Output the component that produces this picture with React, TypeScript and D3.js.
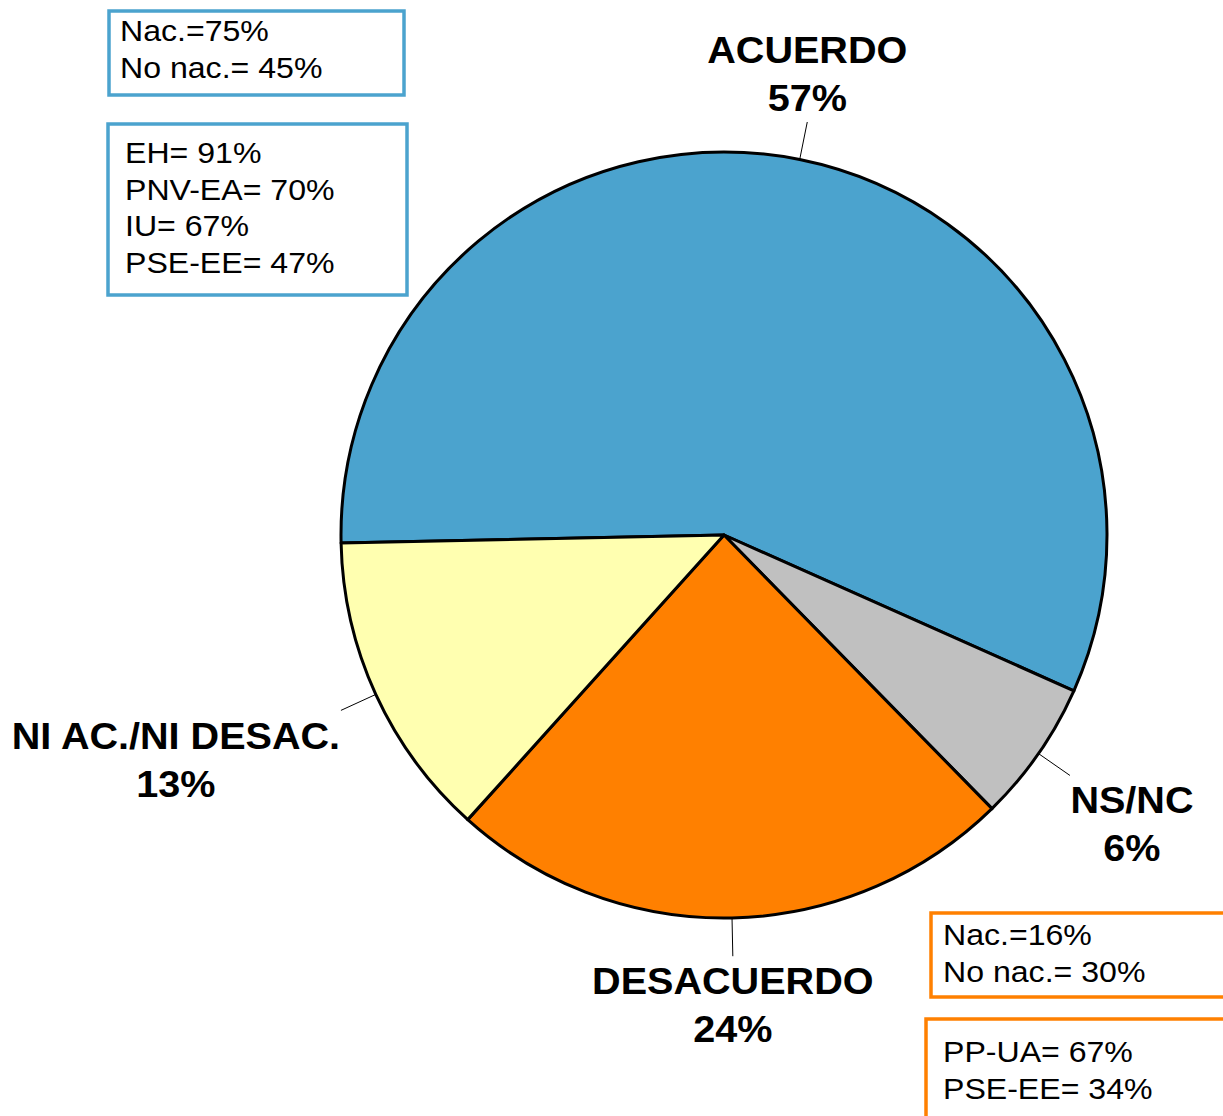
import React, { useEffect } from "react";
import * as d3 from "d3";

const categories = ["ACUERDO", "NS/NC", "DESACUERDO", "NI AC./NI DESAC."];
const values = [57, 6, 24, 13];
const colors = ["#4BA3CE", "#C0C0C0", "#FF8000", "#FFFFB0"];

const acuerdoBox1 = ["Nac.=75%", "No nac.= 45%"];
const acuerdoBox2 = ["EH= 91%", "PNV-EA= 70%", "IU= 67%", "PSE-EE= 47%"];
const desacBox1 = ["Nac.=16%", "No nac.= 30%"];
const desacBox2 = ["PP-UA= 67%", "PSE-EE= 34%"];

const W = 1223;
const H = 1116;
const cx = 724;
const cy = 535;
const R = 383;
const startDeg = -91.2;
const SX = 1.07;

// label offsets relative to leader end: [dx of text center, dy of first baseline]
const labelOffsets = [
  [0, -59],
  [62, 38],
  [0, 38],
  [-165, 39],
];
const lineGap = 48;

const FONT = "'Liberation Sans', Arial, sans-serif";

export default function App() {
  useEffect(() => {
    document.body.style.margin = "0";
  }, []);

  const pie = d3
    .pie<number>()
    .sort(null)
    .value((d) => d)
    .startAngle((startDeg * Math.PI) / 180)
    .endAngle((startDeg * Math.PI) / 180 + 2 * Math.PI);
  const arcs = pie(values);
  const arcGen = d3.arc<d3.PieArcDatum<number>>().innerRadius(0).outerRadius(R);

  const boxes = [
    { x: 109, y: 11, w: 295, h: 84, lines: acuerdoBox1, tx: 120, ty: 41, color: colors[0] },
    { x: 108, y: 124, w: 299, h: 171, lines: acuerdoBox2, tx: 125, ty: 163, color: colors[0] },
    { x: 931, y: 913, w: 300, h: 84, lines: desacBox1, tx: 943, ty: 945, color: colors[2] },
    { x: 926, y: 1019, w: 305, h: 110, lines: desacBox2, tx: 943, ty: 1062, color: colors[2] },
  ];

  return (
    <svg width={W} height={H} style={{ display: "block" }} xmlns="http://www.w3.org/2000/svg">
      <rect width={W} height={H} fill="#fff" />
      <g transform={`translate(${cx},${cy})`}>
        {arcs.map((a, i) => (
          <path key={i} d={arcGen(a) || ""} fill={colors[i]} stroke="#000" strokeWidth={3} strokeLinejoin="round" />
        ))}
        {arcs.map((a, i) => {
          const mid = (a.startAngle + a.endAngle) / 2;
          const x1 = Math.sin(mid) * R;
          const y1 = -Math.cos(mid) * R;
          const x2 = Math.sin(mid) * R * 1.1;
          const y2 = -Math.cos(mid) * R * 1.1;
          const [dx, dy] = labelOffsets[i];
          return (
            <g key={"l" + i}>
              <line x1={x1} y1={y1} x2={x2} y2={y2} stroke="#000" strokeWidth={1} />
              <text
                transform={`translate(${x2 + dx},${y2 + dy}) scale(${SX},1)`}
                textAnchor="middle"
                fontFamily={FONT}
                fontWeight="bold"
                fontSize={37}
                fill="#000"
              >
                <tspan x={0} y={0}>{categories[i]}</tspan>
                <tspan x={0} y={lineGap}>{values[i]}%</tspan>
              </text>
            </g>
          );
        })}
      </g>
      {boxes.map((b, i) => (
        <g key={"b" + i}>
          <rect x={b.x} y={b.y} width={b.w} height={b.h} fill="#fff" stroke={b.color} strokeWidth={3.5} />
          {b.lines.map((t, j) => (
            <text
              key={j}
              transform={`translate(${b.tx},${b.ty + j * 36.7}) scale(${SX},1)`}
              fontFamily={FONT}
              fontSize={30}
              fill="#000"
            >
              {t}
            </text>
          ))}
        </g>
      ))}
    </svg>
  );
}
